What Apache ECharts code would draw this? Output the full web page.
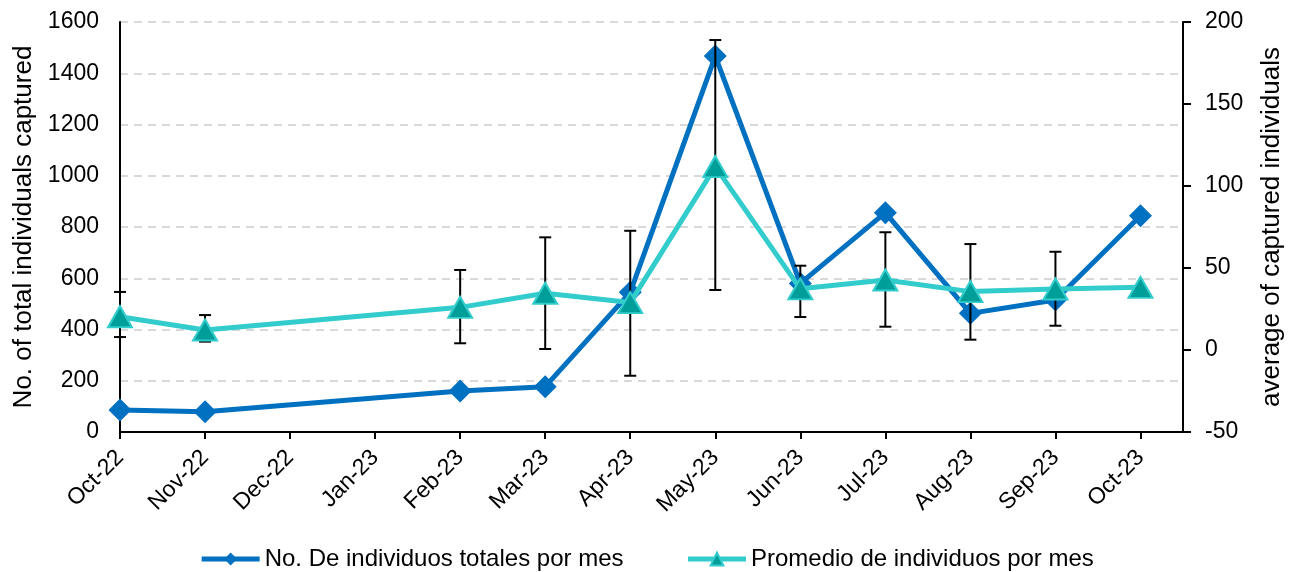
<!DOCTYPE html>
<html>
<head>
<meta charset="utf-8">
<script src="https://cdn.jsdelivr.net/npm/echarts@6/dist/echarts.min.js"></script>
<style>
  html, body { margin: 0; padding: 0; background: #ffffff; }
  #chart { width: 1293px; height: 572px; }
</style>
</head>
<body>
<div id="chart"></div>
<script>
// Monthly captures, Oct-22 to Oct-23 (no sampling in Dec-22 and Jan-23)
const months = ['Oct-22', 'Nov-22', 'Dec-22', 'Jan-23', 'Feb-23', 'Mar-23', 'Apr-23',
                'May-23', 'Jun-23', 'Jul-23', 'Aug-23', 'Sep-23', 'Oct-23'];
const totalPerMonth   = [86, 79, null, null, 160, 177, 545, 1467, 580, 856, 463, 515, 844];
const averagePerMonth = [20.3, 12.2, null, null, 26.0, 34.6, 28.9, 111.8, 37.3, 42.7, 35.6, 37.2, 38.2];
const averageLow      = [7.9, 5.1, null, null, 4.1, 0.6, -15.7, 36.6, 20.1, 14.2, 6.3, 14.8, null];
const averageHigh     = [35.4, 21.3, null, null, 48.8, 68.7, 72.7, 189.0, 51.4, 71.8, 64.6, 59.9, null];
const leftTicks  = { min: 0, max: 1600, interval: 200 };
const rightTicks = { min: -50, max: 200, interval: 50 };

const FONT = 'Liberation Sans, Arial, sans-serif';
const monthIdx = months.map((_, i) => i);

const toPairs = arr => arr.map((v, i) => [i, v]).filter(p => p[1] !== null);
const errorData = averageLow.map((lo, i) => [i, lo, averageHigh[i]])
  .filter(d => d[1] !== null && d[2] !== null);

const chart = echarts.init(document.getElementById('chart'), null, { renderer: 'canvas' });

chart.setOption({
  animation: false,
  backgroundColor: '#ffffff',
  textStyle: { fontFamily: FONT, color: '#000' },
  grid: { left: 120, right: 108, top: 22, bottom: 140, containLabel: false },
  legend: {
    bottom: -4,
    left: 'center',
    itemWidth: 58,
    itemHeight: 16,
    itemGap: 62,
    lineStyle: { width: 5 },
    textStyle: { fontFamily: FONT, fontSize: 24, color: '#000' },
    data: ['No. De individuos totales por mes', 'Promedio de individuos por mes']
  },
  xAxis: {
    type: 'value',
    min: 0,
    max: 12.5,
    interval: 1,
    axisLine: { show: true, lineStyle: { color: '#000', width: 2 } },
    axisTick: { show: true, length: 7, lineStyle: { color: '#000', width: 2 }, customValues: monthIdx },
    axisLabel: {
      customValues: monthIdx,
      rotate: 45,
      margin: 22,
      fontFamily: FONT,
      fontSize: 23,
      color: '#000',
      formatter: v => months[Math.round(v)] || ''
    },
    splitLine: { show: false }
  },
  yAxis: [
    {
      type: 'value',
      min: leftTicks.min,
      max: leftTicks.max,
      interval: leftTicks.interval,
      name: 'No. of total individuals captured',
      nameLocation: 'middle',
      nameGap: 82,
      nameRotate: 90,
      nameTextStyle: { fontFamily: FONT, fontSize: 26, color: '#000' },
      axisLine: { show: true, lineStyle: { color: '#000', width: 2 } },
      axisTick: { show: false },
      axisLabel: { margin: 21, fontFamily: FONT, fontSize: 23, color: '#000', formatter: v => String(v) },
      splitLine: { show: true, lineStyle: { color: '#d9d9d9', width: 2, type: [8, 6] } }
    },
    {
      type: 'value',
      position: 'right',
      min: rightTicks.min,
      max: rightTicks.max,
      interval: rightTicks.interval,
      name: 'average of captured individuals',
      nameLocation: 'middle',
      nameGap: 76,
      nameRotate: 90,
      nameTextStyle: { fontFamily: FONT, fontSize: 26, color: '#000', verticalAlign: 'top' },
      axisLine: { show: true, lineStyle: { color: '#000', width: 2 } },
      axisTick: { show: true, inside: false, length: 8, lineStyle: { color: '#000', width: 2 } },
      axisLabel: { margin: 22, fontFamily: FONT, fontSize: 23, color: '#000', formatter: v => String(v) },
      splitLine: { show: false }
    }
  ],
  series: [
    {
      name: 'No. De individuos totales por mes',
      type: 'line',
      yAxisIndex: 0,
      data: toPairs(totalPerMonth),
      symbol: 'diamond',
      symbolSize: [23, 23],
      lineStyle: { color: '#0070c0', width: 5 },
      itemStyle: { color: '#0070c0' },
      z: 2
    },
    {
      name: 'error',
      type: 'custom',
      yAxisIndex: 1,
      data: errorData,
      encode: { x: 0, y: [1, 2] },
      z: 3,
      silent: true,
      renderItem: (params, api) => {
        const x = api.value(0);
        const top = api.coord([x, api.value(2)]);
        const bot = api.coord([x, api.value(1)]);
        const cap = 6;
        const style = { stroke: '#000', lineWidth: 2 };
        return {
          type: 'group',
          children: [
            { type: 'line', shape: { x1: top[0], y1: top[1], x2: bot[0], y2: bot[1] }, style },
            { type: 'line', shape: { x1: top[0] - cap, y1: top[1], x2: top[0] + cap, y2: top[1] }, style },
            { type: 'line', shape: { x1: bot[0] - cap, y1: bot[1], x2: bot[0] + cap, y2: bot[1] }, style }
          ]
        };
      }
    },
    {
      name: 'Promedio de individuos por mes',
      type: 'line',
      yAxisIndex: 1,
      data: toPairs(averagePerMonth),
      symbol: 'triangle',
      symbolSize: [24, 21],
      lineStyle: { color: '#33cccc', width: 5 },
      itemStyle: { color: '#009e99', borderColor: '#33cccc', borderWidth: 2 },
      z: 4
    }
  ]
});
</script>
</body>
</html>
